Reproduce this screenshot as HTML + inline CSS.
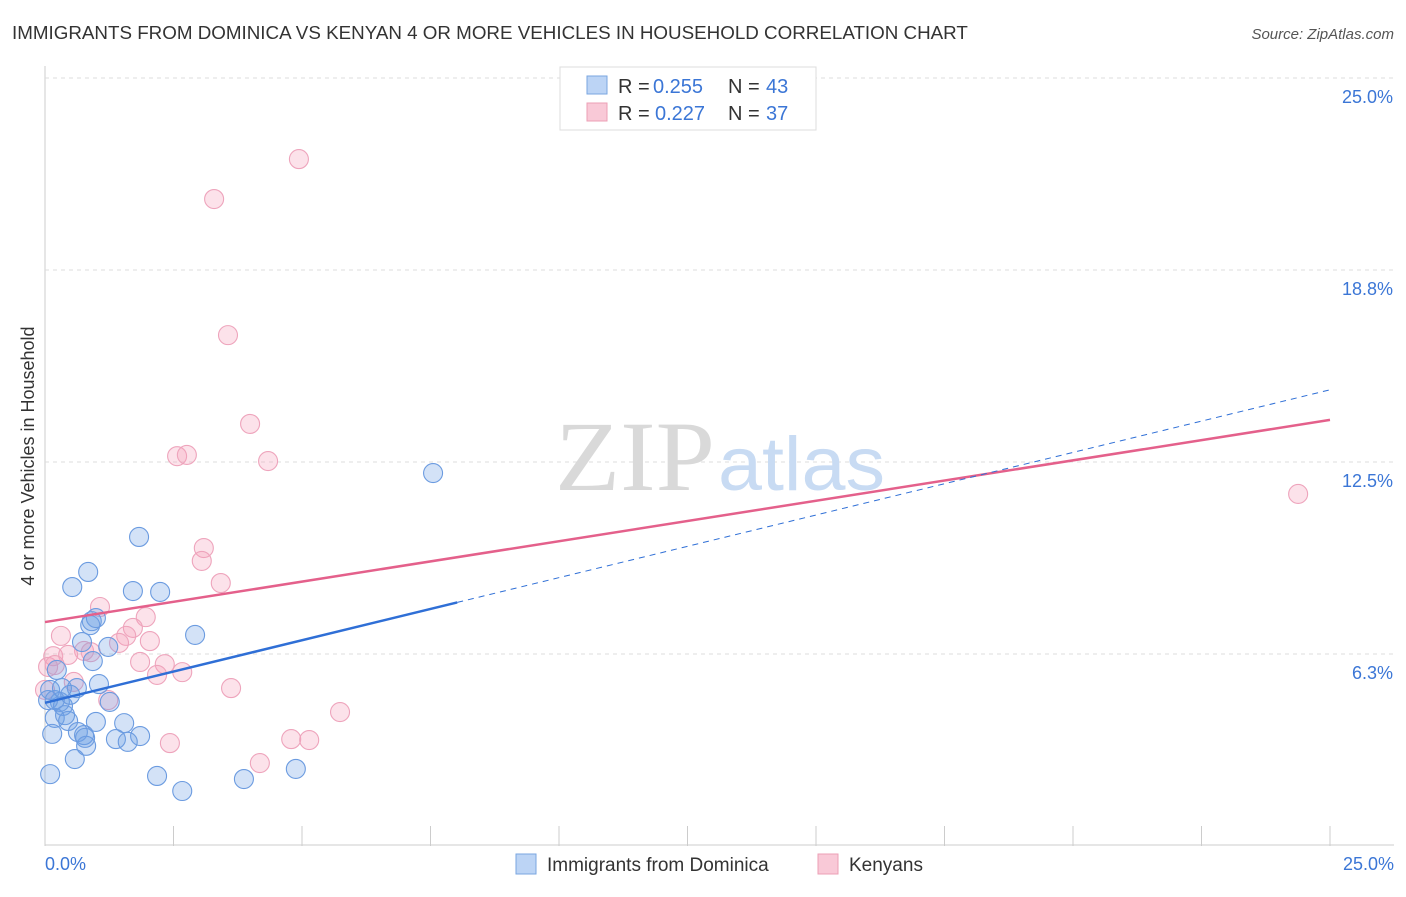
<!DOCTYPE html>
<html><head><meta charset="utf-8"><style>
body{margin:0;background:#fff;font-family:"Liberation Sans",sans-serif;}
</style></head><body>
<svg width="1406" height="892" viewBox="0 0 1406 892" font-family="Liberation Sans, sans-serif">
<text x="12" y="39" font-size="18.8" fill="#333">IMMIGRANTS FROM DOMINICA VS KENYAN 4 OR MORE VEHICLES IN HOUSEHOLD CORRELATION CHART</text>
<text x="1394" y="39" font-size="15" fill="#555" text-anchor="end" font-style="italic">Source: ZipAtlas.com</text>
<g id="grid"></g>
<text x="555" y="490" font-size="100" fill="#d9d9d9" style="font-family:'Liberation Serif',serif" textLength="160" lengthAdjust="spacingAndGlyphs">ZIP</text>
<text x="718" y="490" font-size="76" fill="#c8dbf3" textLength="167" lengthAdjust="spacingAndGlyphs">atlas</text>
<g id="pts"></g>
<g id="lines"></g>
<text x="34" y="456" font-size="18" fill="#333" text-anchor="middle" transform="rotate(-90 34 456)">4 or more Vehicles in Household</text>
<g>
<rect x="560" y="67" width="256" height="63" fill="#fff" stroke="#ddd"/>
<rect x="587" y="76" width="20" height="18" fill="#bcd4f5" stroke="#7aa6e0"/>
<text x="618" y="93" font-size="20" fill="#333">R =</text>
<text x="653" y="93" font-size="20" fill="#3b76d6">0.255</text>
<text x="728" y="93" font-size="20" fill="#333">N =</text>
<text x="766" y="93" font-size="20" fill="#3b76d6">43</text>
<rect x="587" y="103" width="20" height="18" fill="#f9c9d7" stroke="#ec9fb6"/>
<text x="618" y="120" font-size="20" fill="#333">R =</text>
<text x="655" y="120" font-size="20" fill="#3b76d6">0.227</text>
<text x="728" y="120" font-size="20" fill="#333">N =</text>
<text x="766" y="120" font-size="20" fill="#3b76d6">37</text>
</g>
<g>
<rect x="516" y="854" width="20" height="20" fill="#bcd4f5" stroke="#7aa6e0"/>
<text x="547" y="871" font-size="19" fill="#333">Immigrants from Dominica</text>
<rect x="818" y="854" width="20" height="20" fill="#f9c9d7" stroke="#ec9fb6"/>
<text x="849" y="871" font-size="19" fill="#333">Kenyans</text>
</g>
</svg>
<script>
const xTicks=[0,2.5,5,7.5,10,12.5,15,17.5,20,22.5,25];
const yTicks=[6.25,12.5,18.75,25];
const yTickLabels=["6.3%","12.5%","18.8%","25.0%"];
const blueX=[1.83,0.84,0.53,1.71,2.24,0.91,0.99,0.88,2.92,0.72,1.23,0.93,0.23,1.05,0.62,0.10,1.26,0.29,0.35,0.19,0.45,0.99,1.54,1.85,0.64,0.14,0.76,0.80,1.38,1.61,0.58,0.10,2.18,2.67,3.87,4.88,7.55,0.39,0.06,0.49,0.19,0.33,0.78];
const blueY=[10.06,8.92,8.43,8.30,8.27,7.32,7.42,7.19,6.87,6.64,6.48,6.02,5.73,5.27,5.14,5.08,4.69,4.69,4.56,4.17,4.07,4.04,4.00,3.58,3.71,3.65,3.61,3.26,3.48,3.39,2.83,2.34,2.28,1.79,2.18,2.51,12.14,4.26,4.75,4.92,4.75,5.14,3.52];
const pinkX=[4.94,3.29,3.56,3.99,2.57,2.76,4.34,3.09,3.05,3.42,1.07,1.96,1.71,0.31,1.58,2.04,1.44,0.76,0.89,0.16,0.45,1.85,2.33,2.67,2.18,0.56,0.06,0.00,1.23,3.62,5.74,2.43,4.79,5.14,4.18,24.38,0.19];
const pinkY=[22.36,21.06,16.63,13.74,12.69,12.73,12.53,9.70,9.28,8.56,7.78,7.45,7.10,6.84,6.84,6.67,6.61,6.35,6.31,6.18,6.22,5.99,5.92,5.66,5.57,5.34,5.83,5.08,4.75,5.14,4.36,3.35,3.48,3.45,2.70,11.46,5.89];
const blueLine=[4.66,14.85], blueSolidEnd=8.02;
const pinkLine=[7.29,13.87];
const X=v=>45+v/25*1285, Y=v=>846-v*30.72;
const NS="http://www.w3.org/2000/svg";
function mk(tag,attrs,parent){const e=document.createElementNS(NS,tag);for(const k in attrs)e.setAttribute(k,attrs[k]);parent.appendChild(e);return e;}
const grid=document.getElementById('grid');
const a1=mk('line',{x1:45,y1:66,x2:45,y2:846,stroke:'#ccc'},grid);


const a2=mk('line',{x1:45,y1:845,x2:1394,y2:845,stroke:'#ccc'},grid);


yTicks.forEach((t,i)=>{
 const g=mk('line',{x1:45,y1:Y(t),x2:1394,y2:Y(t),stroke:'#ddd','stroke-dasharray':'4,4'},grid);
 
 
 const tx=mk('text',{x:1393,y:Y(t)+25,'font-size':18,fill:'#3b76d6','text-anchor':'end'},grid);
 tx.textContent=yTickLabels[i];
 
 
});
xTicks.forEach(t=>{
 const l=mk('line',{x1:X(t),y1:826,x2:X(t),y2:846,stroke:'#ccc'},grid);
 
 
});
const xl0=mk('text',{x:45,y:870,'font-size':18,fill:'#3b76d6'},grid);xl0.textContent='0.0%';


const xl1=mk('text',{x:1394,y:870,'font-size':18,fill:'#3b76d6','text-anchor':'end'},grid);xl1.textContent='25.0%';


const pts=document.getElementById('pts');
pinkX.forEach((x,i)=>{
 const c=mk('circle',{cx:X(x),cy:Y(pinkY[i]),r:9.5,fill:'rgba(244,160,186,0.3)',stroke:'#eea4bc','stroke-width':1.1},pts);
 
 
});
blueX.forEach((x,i)=>{
 const c=mk('circle',{cx:X(x),cy:Y(blueY[i]),r:9.5,fill:'rgba(110,160,230,0.3)',stroke:'#6b9be0','stroke-width':1.1},pts);
 
 
});
const ln=document.getElementById('lines');
const by=v=>blueLine[0]+(blueLine[1]-blueLine[0])*v/25;
const p=mk('line',{x1:X(0),y1:Y(pinkLine[0]),x2:X(25),y2:Y(pinkLine[1]),stroke:'#e4608b','stroke-width':2.5},ln);


const b1=mk('line',{x1:X(0),y1:Y(by(0)),x2:X(blueSolidEnd),y2:Y(by(blueSolidEnd)),stroke:'#2f6fd6','stroke-width':2.5},ln);


const b2=mk('line',{x1:X(blueSolidEnd),y1:Y(by(blueSolidEnd)),x2:X(25),y2:Y(by(25)),stroke:'#2f6fd6','stroke-width':1,'stroke-dasharray':'6,5'},ln);


</script>
</body></html>
